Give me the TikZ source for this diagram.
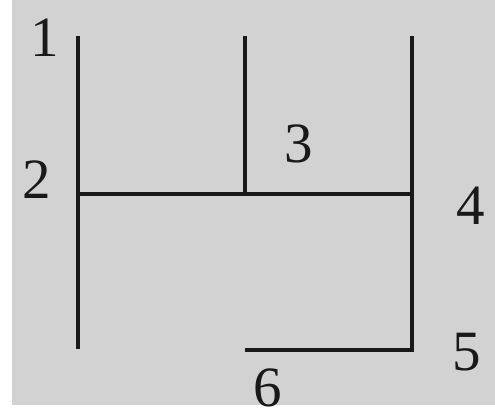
\documentclass[tikz,border=0pt]{standalone}
\usepackage{fontspec}
\setmainfont{Liberation Serif}
\definecolor{bg}{RGB}{210,210,210}
\definecolor{ink}{RGB}{25,25,25}
\tikzset{
  wall/.style={draw=ink, line width=3.6pt, line cap=rect, line join=miter},
  num/.style={anchor=base, inner sep=0pt, text=ink, font=\fontsize{57}{60}\selectfont}
}
\begin{document}
\begin{tikzpicture}[x=1pt,y=-1pt]
\useasboundingbox (0,0) rectangle (495,418);
\fill[white] (0,0) rectangle (495,418);
\fill[bg] (12,0) rectangle (495,405);
\coordinate (lt) at (78,38);
\coordinate (lb) at (78,347);
\coordinate (lm) at (78,194);
\coordinate (mt) at (245,38);
\coordinate (mm) at (245,194);
\coordinate (rt) at (412,38);
\coordinate (rm) at (412,194);
\coordinate (rb) at (412,350);
\coordinate (bl) at (247,350);
\draw[wall] (lt) -- (lb);
\draw[wall] (mt) -- (mm);
\draw[wall] (lm) -- (rm);
\draw[wall] (rt) -- (rb) -- (bl);
\node[num] (n1) at (45,56) {1};
\node[num] (n2) at (37,198) {2};
\node[num] (n3) at (299,162) {3};
\node[num] (n4) at (471,224) {4};
\node[num] (n5) at (467,370) {5};
\node[num] (n6) at (268,406) {6};
\end{tikzpicture}
\end{document}
